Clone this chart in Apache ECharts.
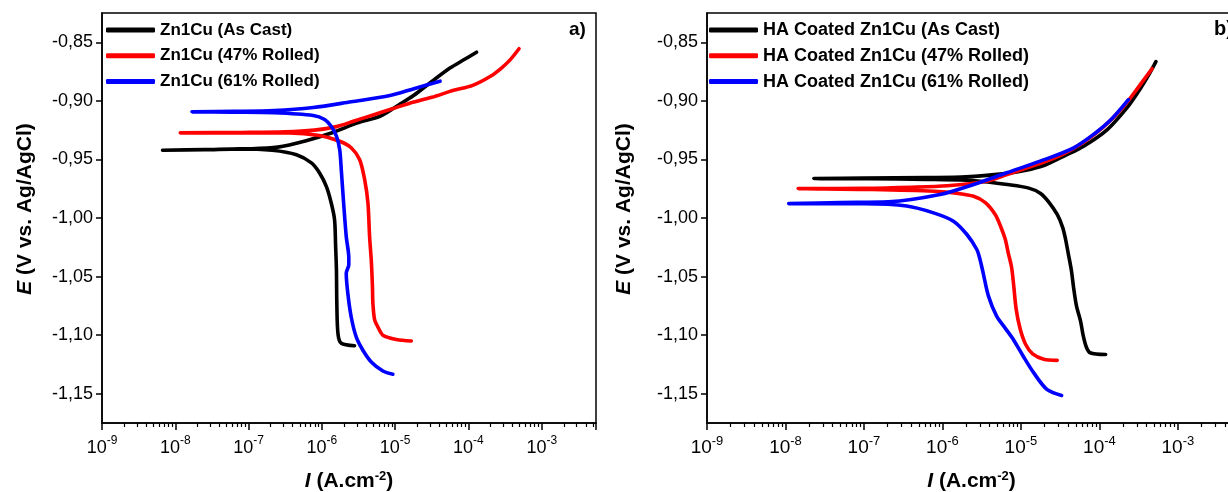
<!DOCTYPE html>
<html>
<head>
<meta charset="utf-8">
<script src="https://cdn.jsdelivr.net/npm/echarts@6/dist/echarts.min.js"></script>
<style>
  html, body { margin: 0; background: #fff; }
  #chart { width: 1228px; height: 492px; }
</style>
</head>
<body>
<div id="chart"></div>
<script>
const FONT = 'Arial, "Liberation Sans", sans-serif';

// axis ranges / ticks
const xMin = 1e-9;
const xMax = 5.5e-3;
const yMin = -1.175;
const yMax = -0.825;
const yTicks = [-1.15, -1.10, -1.05, -1.00, -0.95, -0.90, -0.85];

// --- panel a) bare Zn1Cu, scan order: cathodic end -> Ecorr -> anodic end ---
const castI = [2.79e-6, 1.84e-6, 1.66e-6, 1.60e-6, 1.58e-6, 1.54e-6, 1.49e-6, 1.34e-6, 1.15e-6, 9.3e-7, 7.2e-7, 4.5e-7, 2.1e-7, 7.6e-8, 2.5e-8, 6.7e-9, 2.5e-8, 1.0e-7, 2.5e-7, 6.1e-7, 1.41e-6, 3.0e-6, 6.3e-6, 1.12e-5, 1.78e-5, 3.16e-5, 5.6e-5, 8.9e-5, 1.29e-4];
const castE = [-1.109, -1.107, -1.099, -1.073, -1.044, -1.024, -1.0015, -0.987, -0.973, -0.9616, -0.953, -0.946, -0.9422, -0.941, -0.9418, -0.9422, -0.9415, -0.941, -0.9395, -0.934, -0.927, -0.919, -0.913, -0.9035, -0.8955, -0.8835, -0.872, -0.8645, -0.8585];

const rolled47I = [1.66e-5, 1.04e-5, 6.8e-6, 5.8e-6, 5.25e-6, 4.97e-6, 4.9e-6, 4.72e-6, 4.48e-6, 4.25e-6, 3.83e-6, 3.27e-6, 2.51e-6, 1.75e-6, 9.3e-7, 3.6e-7, 7.6e-8, 1.17e-8, 7.9e-8, 3.16e-7, 7.9e-7, 1.58e-6, 2.82e-6, 5.0e-6, 8.9e-6, 1.58e-5, 3.16e-5, 6.3e-5, 1.12e-4, 2.0e-4, 2.82e-4, 3.7e-4, 4.9e-4];
const rolled47E = [-1.105, -1.1037, -1.100, -1.093, -1.087, -1.073, -1.0586, -1.036, -1.016, -0.987, -0.967, -0.950, -0.940, -0.9345, -0.9296, -0.9273, -0.9273, -0.9273, -0.927, -0.9265, -0.925, -0.922, -0.917, -0.912, -0.907, -0.902, -0.897, -0.891, -0.887, -0.879, -0.872, -0.865, -0.8555];

const rolled61I = [9.3e-6, 6.8e-6, 4.72e-6, 3.63e-6, 2.94e-6, 2.51e-6, 2.26e-6, 2.15e-6, 2.33e-6, 2.33e-6, 2.15e-6, 1.98e-6, 1.84e-6, 1.75e-6, 1.58e-6, 1.34e-6, 1.09e-6, 7.6e-7, 2.22e-7, 6.5e-8, 1.69e-8, 6.3e-8, 2.24e-7, 7.6e-7, 2.51e-6, 8.5e-6, 1.85e-5, 4.1e-5];
const rolled61E = [-1.1334, -1.1306, -1.1229, -1.1129, -1.1015, -1.0843, -1.0643, -1.0472, -1.040, -1.034, -1.0158, -0.9872, -0.9587, -0.9416, -0.9302, -0.9217, -0.9159, -0.9125, -0.9102, -0.9097, -0.9094, -0.909, -0.9083, -0.9057, -0.9008, -0.8955, -0.8894, -0.8832];

// --- panel b) HA coated Zn1Cu ---
const haCastI = [1.2e-4, 7.6e-5, 6.8e-5, 6.2e-5, 5.75e-5, 5.1e-5, 4.7e-5, 4.4e-5, 4.0e-5, 3.7e-5, 3.4e-5, 2.9e-5, 2.24e-5, 1.78e-5, 1.26e-5, 6.3e-6, 4.0e-6, 2.0e-6, 6.3e-7, 1.15e-7, 2.3e-8, 1.0e-7, 6.3e-7, 2.0e-6, 6.3e-6, 1.12e-5, 2.0e-5, 3.7e-5, 6.3e-5, 1.26e-4, 2.24e-4, 3.16e-4, 4.4e-4, 5.25e-4];
const haCastE = [-1.1165, -1.115, -1.110, -1.100, -1.088, -1.075, -1.060, -1.045, -1.030, -1.018, -1.008, -0.997, -0.986, -0.979, -0.9745, -0.9712, -0.9695, -0.9677, -0.967, -0.9665, -0.9663, -0.966, -0.9655, -0.9649, -0.9621, -0.9595, -0.955, -0.9465, -0.9387, -0.9245, -0.906, -0.8918, -0.876, -0.8665];

const ha47I = [2.9e-5, 1.95e-5, 1.41e-5, 1.15e-5, 9.8e-6, 8.7e-6, 8.1e-6, 7.6e-6, 6.9e-6, 6.3e-6, 5.5e-6, 4.7e-6, 3.55e-6, 2.5e-6, 1.58e-6, 7.9e-7, 1.26e-7, 1.45e-8, 1.0e-7, 4.0e-7, 1.15e-6, 3.6e-6, 6.5e-6, 1.12e-5, 2.0e-5, 3.55e-5, 6.3e-5, 1.12e-4, 2.0e-4, 3.16e-4, 4.7e-4];
const ha47E = [-1.1215, -1.1205, -1.116, -1.108, -1.095, -1.078, -1.058, -1.042, -1.030, -1.018, -1.007, -0.997, -0.987, -0.9815, -0.979, -0.9772, -0.9757, -0.9749, -0.9747, -0.9738, -0.9725, -0.9686, -0.9632, -0.9578, -0.952, -0.945, -0.9353, -0.9225, -0.9055, -0.888, -0.8725];

const ha61I = [3.3e-5, 2.14e-5, 1.45e-5, 1.07e-5, 8.0e-6, 6.3e-6, 4.9e-6, 3.85e-6, 3.3e-6, 3.0e-6, 2.74e-6, 2.05e-6, 1.38e-6, 7.7e-7, 3.5e-7, 1.0e-7, 1.1e-8, 5.0e-8, 2.04e-7, 9.3e-7, 2.5e-6, 6.6e-6, 1.76e-5, 4.7e-5, 8.9e-5, 1.41e-4, 2.34e-4];
const ha61E = [-1.1515, -1.1463, -1.132, -1.118, -1.1037, -1.094, -1.0838, -1.0665, -1.0468, -1.035, -1.0269, -1.0141, -1.0027, -0.9956, -0.9897, -0.9878, -0.9877, -0.9868, -0.9862, -0.980, -0.9714, -0.9614, -0.9515, -0.9401, -0.9274, -0.916, -0.899];

const namesA = ["Zn1Cu (As Cast)", "Zn1Cu (47% Rolled)", "Zn1Cu (61% Rolled)"];
const namesB = ["HA Coated Zn1Cu (As Cast)", "HA Coated Zn1Cu (47% Rolled)", "HA Coated Zn1Cu (61% Rolled)"];
const colors = ["#000000", "#ff0000", "#0000ff"];

// minor log ticks 2..9 per decade (drawn on a helper axis in log10 space)
const xMaxLog = Math.log10(xMax);
const minorTicks = [];
for (let d = -9; d <= -3; d++) {
  for (let k = 2; k <= 9; k++) {
    const v = Math.log10(k) + d;
    if (v < xMaxLog) minorTicks.push(v);
  }
}

const pair = (xs, ys) => xs.map((x, i) => [x, ys[i]]);

function xAxes(grid, fs) {
  return [
    {
      type: "log", gridIndex: grid, logBase: 10, min: xMin, max: xMax, splitNumber: 7,
      position: "bottom",
      name: "{i|I}{n| (A.cm}{s|-2}{n|)}",
      nameLocation: "middle", nameGap: 47,
      nameTextStyle: {
        rich: {
          i: { fontFamily: FONT, fontSize: 21, fontWeight: "bold", fontStyle: "italic", color: "#000", lineHeight: 22, verticalAlign: "bottom" },
          n: { fontFamily: FONT, fontSize: 21, fontWeight: "bold", color: "#000", lineHeight: 22, verticalAlign: "bottom" },
          s: { fontFamily: FONT, fontSize: 13, fontWeight: "bold", color: "#000", lineHeight: 10, verticalAlign: "top" },
        },
      },
      axisLine: { show: true, onZero: false, lineStyle: { color: "#000", width: 1.5 } },
      axisTick: { show: true, length: 7, lineStyle: { color: "#000", width: 1.5 } },
      splitLine: { show: false },
      axisLabel: {
        margin: 12,
        formatter: (v) => {
          const lg = Math.log10(v);
          const e = Math.round(lg);
          if (Math.abs(lg - e) > 1e-6) return "";
          return "{b|10}{s|" + e + "}";
        },
        rich: {
          b: { fontFamily: FONT, fontSize: fs, color: "#000", lineHeight: 22, verticalAlign: "bottom" },
          s: { fontFamily: FONT, fontSize: fs - 6, color: "#000", lineHeight: 10, verticalAlign: "top" },
        },
      },
    },
    {
      type: "value", gridIndex: grid, min: -9, max: xMaxLog, position: "bottom",
      axisLine: { show: false },
      axisLabel: { show: false },
      splitLine: { show: false },
      axisTick: { show: true, length: 4, customValues: minorTicks, lineStyle: { color: "#000", width: 1.2 } },
    },
  ];
}

function yAxis(grid, fs, gap) {
  return {
    type: "value", gridIndex: grid, min: yMin, max: yMax,
    name: "{i|E}{n| (V vs. Ag/AgCl)}",
    nameLocation: "middle", nameRotate: 90, nameGap: gap,
    nameTextStyle: {
      padding: [0, 0, 0, 18],
      rich: {
        i: { fontFamily: FONT, fontSize: 21, fontWeight: "bold", fontStyle: "italic", color: "#000" },
        n: { fontFamily: FONT, fontSize: 21, fontWeight: "bold", color: "#000" },
      },
    },
    axisLine: { show: true, onZero: false, lineStyle: { color: "#000", width: 1.5 } },
    axisTick: { show: true, length: 6, customValues: yTicks, lineStyle: { color: "#000", width: 1.5 } },
    axisLabel: {
      customValues: yTicks, margin: 9, color: "#000", fontFamily: FONT, fontSize: fs,
      formatter: (v) => v.toFixed(2).replace(".", ","),
    },
    splitLine: { show: false },
  };
}

function curve(name, xs, ys, color, xi, yi) {
  return {
    name, type: "line", xAxisIndex: xi, yAxisIndex: yi,
    data: pair(xs, ys),
    showSymbol: false, symbol: "none", smooth: 0.3,
    lineStyle: { color, width: 3.6, cap: "round", join: "round" },
    itemStyle: { color },
    z: 3,
  };
}

function legend(names, left, fs) {
  return {
    data: names, left, top: 15, orient: "vertical",
    icon: "roundRect", itemWidth: 49, itemHeight: 5, itemGap: 5.8,
    selectedMode: false,
    textStyle: { fontFamily: FONT, fontSize: fs, fontWeight: "bold", color: "#000", lineHeight: 20 },
  };
}

const chart = echarts.init(document.getElementById("chart"), null, { renderer: "canvas" });
chart.setOption({
  animation: false,
  backgroundColor: "#fff",
  grid: [
    { left: 102, top: 13, width: 494, bottom: 69, show: true, borderColor: "#000", borderWidth: 1.5, outerBoundsMode: "none", containLabel: false },
    { left: 707, top: 13, width: 529, bottom: 69, show: true, borderColor: "#000", borderWidth: 1.5, outerBoundsMode: "none", containLabel: false },
  ],
  xAxis: [...xAxes(0, 18), ...xAxes(1, 19)],
  yAxis: [yAxis(0, 18, 66), yAxis(1, 18, 72)],
  legend: [legend(namesA, 101, 17), legend(namesB, 704, 18)],
  graphic: [
    { type: "text", left: 569, top: 20, style: { text: "a)", font: "bold 19px " + FONT, fill: "#000" } },
    { type: "text", left: 1214, top: 19, style: { text: "b)", font: "bold 20px " + FONT, fill: "#000" } },
  ],
  series: [
    curve(namesA[0], castI, castE, colors[0], 0, 0),
    curve(namesA[1], rolled47I, rolled47E, colors[1], 0, 0),
    curve(namesA[2], rolled61I, rolled61E, colors[2], 0, 0),
    curve(namesB[0], haCastI, haCastE, colors[0], 2, 1),
    curve(namesB[1], ha47I, ha47E, colors[1], 2, 1),
    curve(namesB[2], ha61I, ha61E, colors[2], 2, 1),
  ],
});
</script>
</body>
</html>
